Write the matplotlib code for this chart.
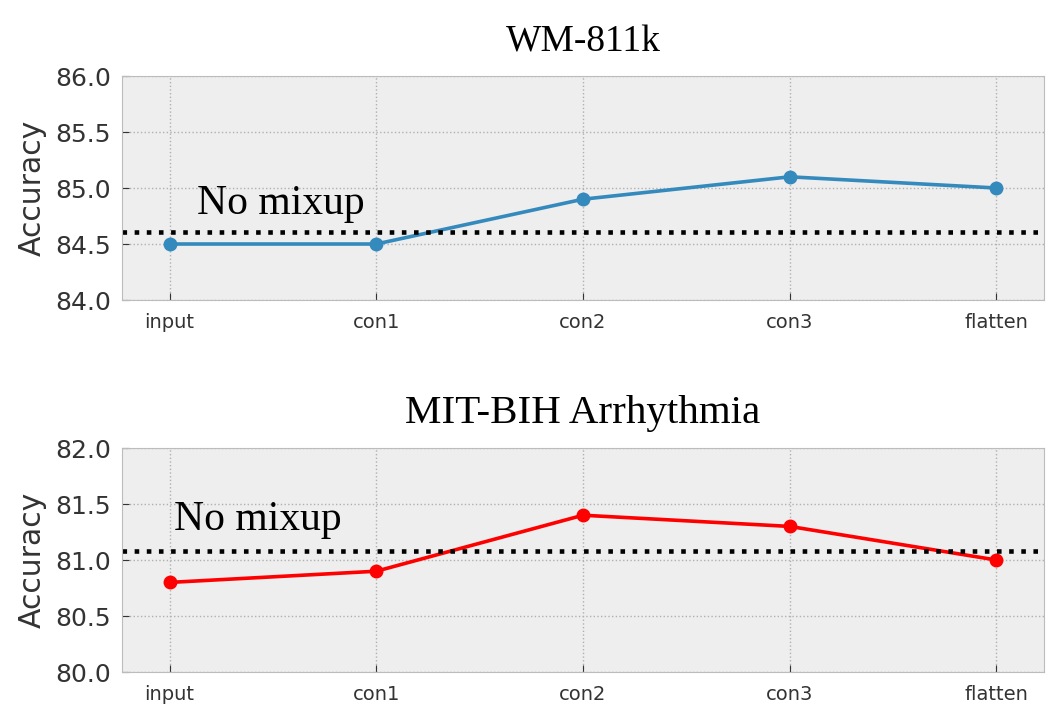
import matplotlib.pyplot as plt
import numpy as np

layers = ["input", "con1", "con2", "con3", "flatten"]
wm_acc = [84.5, 84.5, 84.9, 85.1, 85.0]
wm_base = 84.61
mit_acc = [80.8, 80.9, 81.4, 81.3, 81.0]
mit_base = 81.08

fig = plt.figure(figsize=(10.58, 7.15), dpi=100)
ax1 = fig.add_axes([0.1153, 0.5804, 0.8715, 0.3133])
ax2 = fig.add_axes([0.1153, 0.0601, 0.8715, 0.3133])

panels = [
    (ax1, wm_acc, wm_base, "#348ABD", "WM-811k", 27, (84.0, 86.0), (0.135, 84.86)),
    (ax2, mit_acc, mit_base, "red", "MIT-BIH Arrhythmia", 29.5, (80.0, 82.0), (0.02, 81.36)),
]

x = np.arange(len(layers))
for ax, acc, base, col, title, tsize, ylim, txt in panels:
    ax.set_facecolor("#eeeeee")
    ax.plot(x, acc, "-o", color=col, lw=2.6, ms=9)
    ax.axhline(base, color="black", ls=":", lw=3.3)
    ax.text(txt[0], txt[1], "No mixup", family="Liberation Serif", fontsize=30,
            va="center", ha="left")
    ax.set_xlim(-0.23, len(layers) - 1 + 0.23)
    ax.set_ylim(*ylim)
    ax.set_yticks(np.arange(ylim[0], ylim[1] + 0.01, 0.5))
    ax.yaxis.set_major_formatter(plt.FormatStrFormatter("%.1f"))
    ax.set_xticks(x)
    ax.set_xticklabels(layers)
    ax.tick_params(axis="y", direction="in", labelsize=18, length=5,
                   color="#333333", labelcolor="#333333", pad=8)
    ax.tick_params(axis="x", direction="in", labelsize=14, length=5,
                   color="#333333", labelcolor="#333333", pad=9)
    ax.grid(True, ls=":", color="#b0b0b0", lw=1)
    ax.set_axisbelow(True)
    for s in ax.spines.values():
        s.set_color("#bcbcbc")
    ax.set_ylabel("Accuracy", fontsize=21.5, color="#333333", labelpad=6)
    ax.set_title(title, family="Liberation Serif", fontsize=tsize, pad=18)

fig.savefig("out.png", dpi=100)
